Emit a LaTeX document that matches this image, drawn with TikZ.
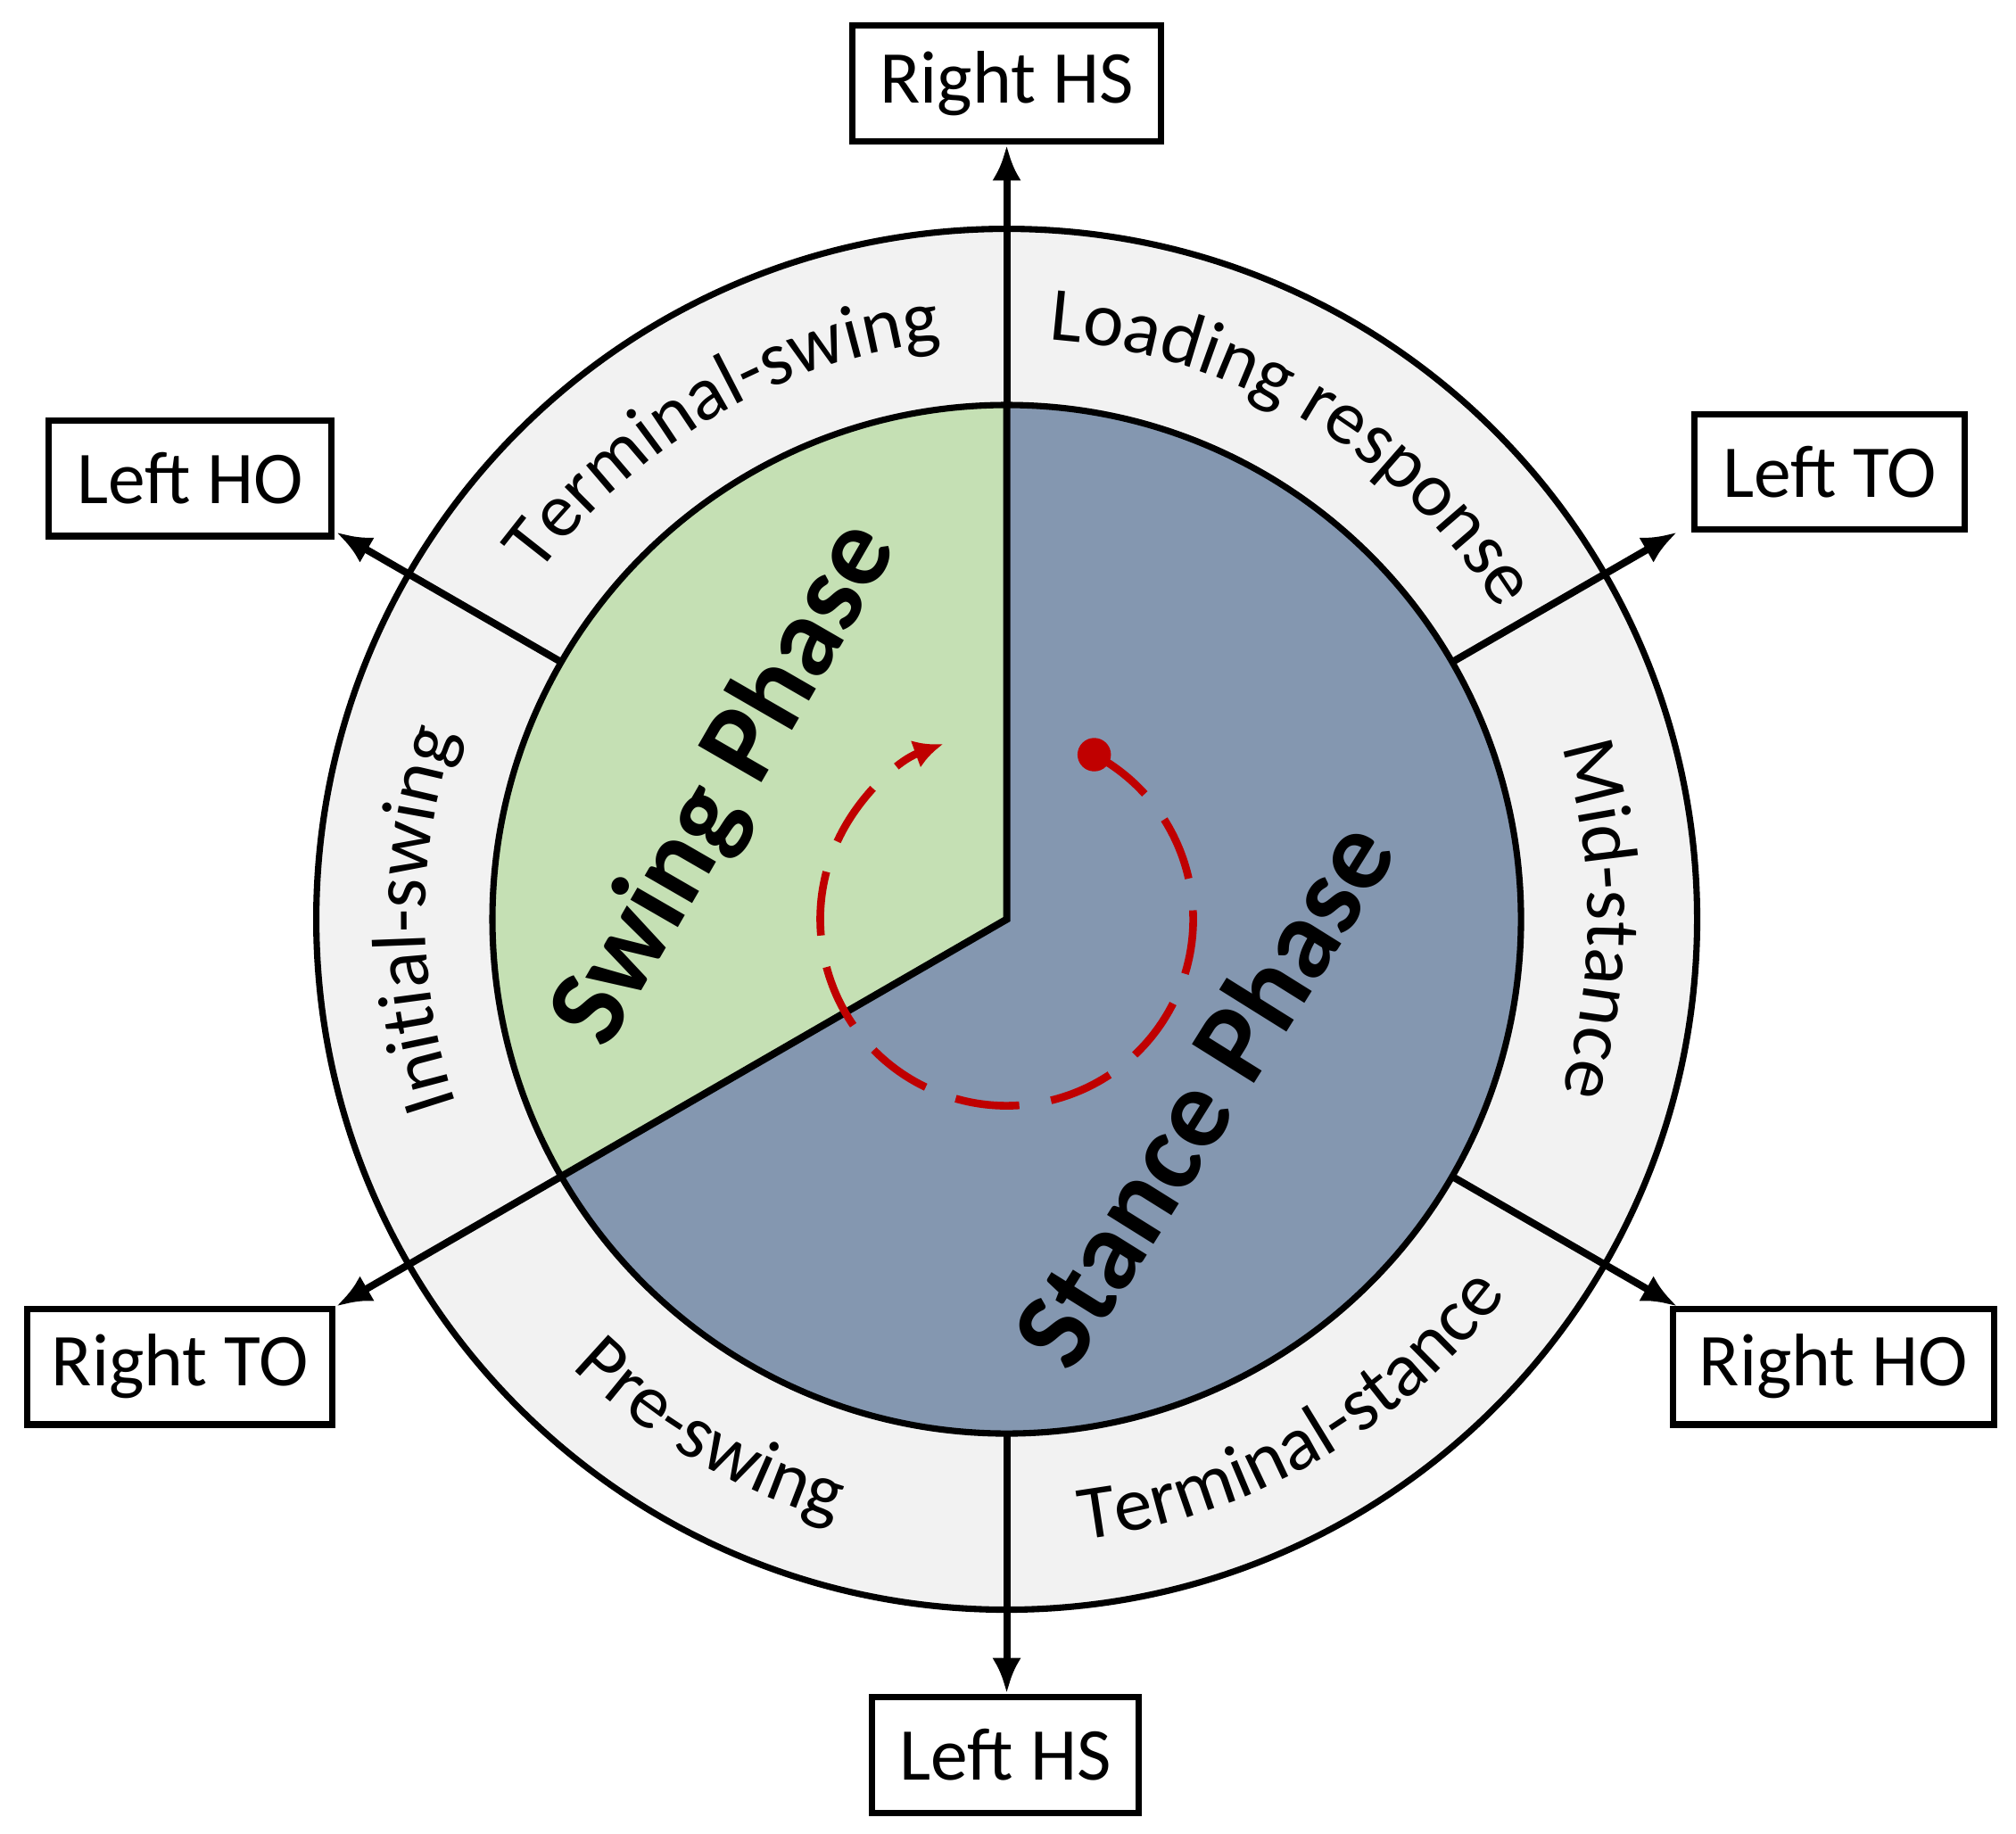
\documentclass[tikz,border=0pt]{standalone}
\usepackage{fontspec}
\setmainfont{Carlito}
\usetikzlibrary{decorations.text,arrows.meta}
\definecolor{swingcol}{HTML}{C5E0B4}
\definecolor{stancecol}{HTML}{8497B0}
\definecolor{ringcol}{HTML}{F2F2F2}
\definecolor{arrowred}{HTML}{C00000}
\tikzset{
  event/.style={draw,line width=2.8pt,fill=white,inner sep=0pt,minimum height=1.8cm,font=\fontsize{33}{40}\selectfont},
  marker/.style={line width=3.2pt,-{Latex[length=0.55cm,width=0.45cm]}},
  phase/.style={font=\fontsize{50}{58}\selectfont\bfseries},
  ringtext/.style={decorate,decoration={text along path,text align=center,
    text={|\fontsize{34}{40}\selectfont|#1}}}
}
\begin{document}
\begin{tikzpicture}[x=0.02cm,y=0.02cm]
	\useasboundingbox (-783,-711) rectangle (785,715);
	% ring and phases
	\fill[ringcol] (0,0) circle (537);
	\draw[line width=2.8pt] (0,0) circle (537);
	\fill[stancecol] (0,0) -- (90:400) arc[start angle=90,end angle=-150,radius=400] -- cycle;
	\fill[swingcol] (0,0) -- (90:400) arc[start angle=90,end angle=210,radius=400] -- cycle;
	\draw[line width=2.8pt] (0,0) circle (400);
	\draw[line width=3.2pt] (210:400) -- (0,0) -- (90:400);
	% event boxes
	\node[event,minimum width=4.8cm] (rhs) at (0,650) {Right HS};
	\node[event,minimum width=4.4cm] (lho) at (-635,343) {Left HO};
	\node[event,minimum width=4.2cm] (lto) at (640,348) {Left TO};
	\node[event,minimum width=4.75cm] (rto) at (-643,-348) {Right TO};
	\node[event,minimum width=5cm] (rho) at (643,-348) {Right HO};
	\node[event,minimum width=4.15cm] (lhs) at (-1,-650) {Left HS};
	\foreach \a/\n in {90/rhs,150/lho,30/lto,210/rto,-30/rho,270/lhs} {
		\coordinate (tip\n) at (\a:602);
		\draw[marker] (\a:400) -- (tip\n);
	}
	% sub-phase labels
	\path[ringtext={Loading response}] (86:452) arc[start angle=86,end angle=32,radius=452];
	\path[ringtext={Mid-stance}] (28:452) arc[start angle=28,end angle=-28,radius=452];
	\path[ringtext={Terminal-stance}] (272:486) arc[start angle=272,end angle=328,radius=486];
	\path[ringtext={Pre-swing}] (212:486) arc[start angle=212,end angle=268,radius=486];
	\path[ringtext={Initial-swing}] (208:452) arc[start angle=208,end angle=152,radius=452];
	\path[ringtext={Terminal-swing}] (148:452) arc[start angle=148,end angle=92,radius=452];
	% phase names
	\node[phase,rotate=60] (swing) at (-218,105) {Swing Phase};
	\node[phase,rotate=58] (stance) at (152,-135) {Stance Phase};
	% cycle direction
	\fill[arrowred] (62:145) circle (13);
	\draw[arrowred,line width=3.4pt,dash pattern=on 1cm off 0.5cm,-{Latex[length=0.45cm,width=0.45cm]}]
		(62:145) arc[start angle=62,end angle=-250,radius=145];
\end{tikzpicture}
\end{document}
